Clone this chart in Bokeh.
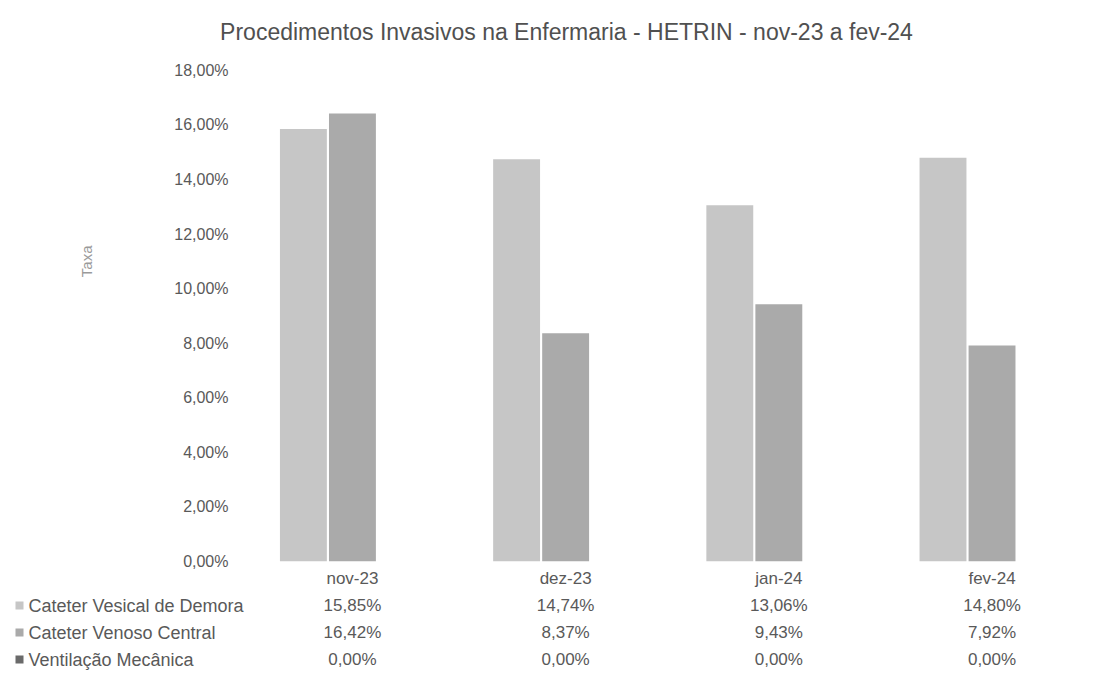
import math
from bokeh.plotting import figure
from bokeh.models import Range1d, FixedTicker, ColumnDataSource, LinearAxis
from bokeh.layouts import column
from bokeh.embed import file_html
from bokeh.resources import INLINE
from bokeh.core.properties import value

# ---- data ----
categories = ["nov-23", "dez-23", "jan-24", "fev-24"]
series_names = ["Cateter Vesical de Demora", "Cateter Venoso Central", "Ventilação Mecânica"]
cvd = [15.85, 14.74, 13.06, 14.80]
cvc = [16.42, 8.37, 9.43, 7.92]
vm = [0.00, 0.00, 0.00, 0.00]
y_ticks = [0, 2, 4, 6, 8, 10, 12, 14, 16, 18]
y_tick_labels = ["0,00%", "2,00%", "4,00%", "6,00%", "8,00%", "10,00%",
                 "12,00%", "14,00%", "16,00%", "18,00%"]
title_text = "Procedimentos Invasivos na Enfermaria - HETRIN - nov-23 a fev-24"
y_title = "Taxa"

series_values = [cvd, cvc, vm]
colors = ["#c6c6c6", "#aaaaaa", "#6a6a6a"]

FONT = "Liberation Sans"
TXT = "#595959"

W = 1096
CH_TOP_PAGE = 50
CH_H = 542
LEFT, TOP, BOTTOM = 256, 12, 31
X0, X1 = 0.05, 3.99
Y0, Y1 = 0.0, 18.29
sx = (W - LEFT) / (X1 - X0)
sy = (CH_H - TOP - BOTTOM) / (Y1 - Y0)

def no_axes(f):
    f.axis.visible = False
    f.grid.visible = False
    f.outline_line_color = None

# ---- title figure ----
tf = figure(width=W, height=CH_TOP_PAGE, output_backend="svg", toolbar_location=None,
            x_range=Range1d(0, W), y_range=Range1d(CH_TOP_PAGE, 0),
            min_border=0, frame_align=False)
no_axes(tf)
tf.text(x=[566], y=[31], text=[title_text], text_align="center", text_baseline="middle",
        text_font=value(FONT), text_font_size=value("23px"), text_color="#505050")

# ---- chart figure ----
p = figure(width=W, height=CH_H, output_backend="svg", toolbar_location=None,
           x_range=Range1d(X0, X1), y_range=Range1d(Y0, Y1),
           min_border_left=LEFT, min_border_right=0,
           min_border_top=TOP, min_border_bottom=BOTTOM, frame_align=False)
p.outline_line_color = None
p.grid.visible = False

bar_w = 0.22
offsets = [-0.23, 0.0, 0.23]
for vals, off, col in zip(series_values, offsets, colors):
    xs = [i + 0.5 + off for i in range(len(categories))]
    p.vbar(x=xs, top=vals, bottom=0, width=bar_w, fill_color=col, line_color=None)

def style_axis(ax, size):
    ax.axis_line_color = None
    ax.major_tick_line_color = None
    ax.minor_tick_line_color = None
    ax.major_tick_out = 0
    ax.minor_tick_out = 0
    ax.major_label_text_font = FONT
    ax.major_label_text_font_size = size
    ax.major_label_text_color = TXT

p.yaxis.ticker = FixedTicker(ticks=y_ticks)
p.yaxis.major_label_overrides = {t: l for t, l in zip(y_ticks, y_tick_labels)}
style_axis(p.yaxis[0], "16px")
p.yaxis.major_label_standoff = 28

xt = [i + 0.5 for i in range(len(categories))]
p.xaxis.ticker = FixedTicker(ticks=xt)
p.xaxis.major_label_overrides = {t: c for t, c in zip(xt, categories)}
style_axis(p.xaxis[0], "17px")
p.xaxis.major_label_standoff = 7

# y-axis title, placed as a rotated label of an outer left axis
taxa_y = (CH_TOP_PAGE + CH_H - BOTTOM - 245) / sy
tax = LinearAxis(ticker=FixedTicker(ticks=[taxa_y]),
                 major_label_overrides={taxa_y: y_title},
                 major_label_orientation=math.pi / 2)
style_axis(tax, "15px")
tax.major_label_text_color = "#9a9a9a"
tax.major_label_standoff = 85
p.add_layout(tax, "left")

# ---- data table figure ----
TB_TOP_PAGE = CH_TOP_PAGE + CH_H
TB_H = 674 - TB_TOP_PAGE
tx0 = X0 - LEFT / sx
tb = figure(width=W, height=TB_H, output_backend="svg", toolbar_location=None,
            x_range=Range1d(tx0, X1), y_range=Range1d(TB_H, 0), min_border=0,
            frame_align=False)
no_axes(tb)

row_y = [605 - TB_TOP_PAGE, 632 - TB_TOP_PAGE, 659 - TB_TOP_PAGE]
name_x = tx0 + 28 / sx
key_x = tx0 + 19 / sx
for name, vals, col, ry in zip(series_names, series_values, colors, row_y):
    tb.scatter(x=[key_x], y=[ry], marker="square", size=8, fill_color=col, line_color=None)
    tb.text(x=[name_x], y=[ry], text=[name], text_align="left", text_baseline="middle",
            text_font=value(FONT), text_font_size=value("18px"), text_color=TXT)
    src = ColumnDataSource(dict(
        x=[i + 0.5 for i in range(len(vals))],
        y=[ry] * len(vals),
        t=[f"{v:.2f}".replace(".", ",") + "%" for v in vals]))
    tb.text(x="x", y="y", text="t", source=src, text_align="center", text_baseline="middle",
            text_font=value(FONT), text_font_size=value("17px"), text_color=TXT)

layout = column(tf, p, tb, spacing=0)
open("out.html", "w").write(file_html(layout, INLINE))
